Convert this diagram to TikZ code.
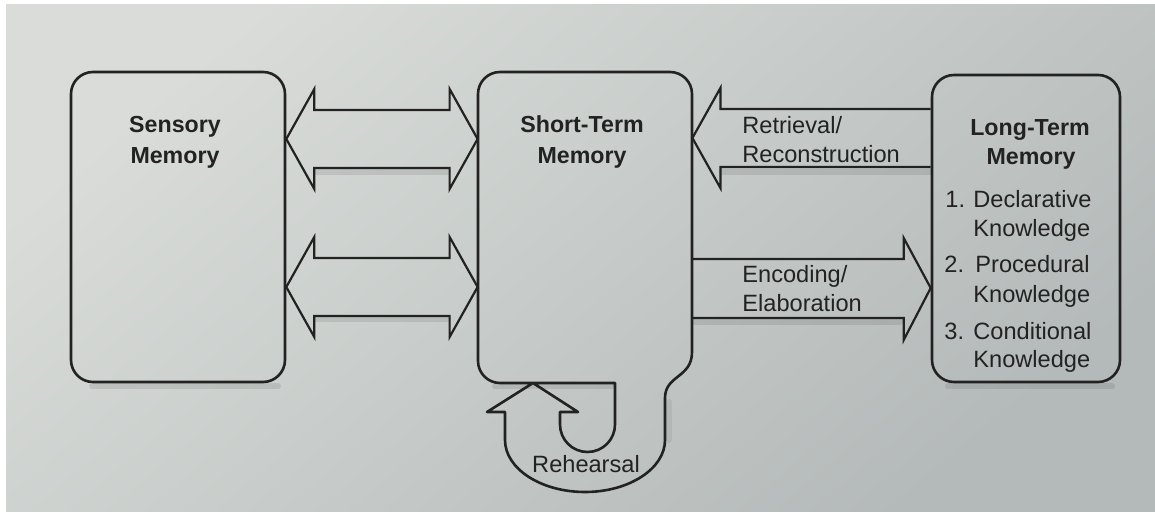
\documentclass[tikz,border=0pt]{standalone}
\usepackage{fontspec}
\setmainfont{Liberation Sans}
\usetikzlibrary{calc}

\definecolor{ink}{HTML}{222222}
\definecolor{paperA}{HTML}{D9DCD9}
\definecolor{paperB}{HTML}{B4BAB9}

% double-headed block arrow between two tips (left tip, right tip)
\newcommand\blockdouble[2]{%
  \draw[blk] (#1) -- ($(#1)+(28,-50)$) -- ($(#1)+(28,-29)$)
    -- ($(#2)+(-28,-29)$) -- ($(#2)+(-28,-50)$) -- (#2)
    -- ($(#2)+(-28,50)$) -- ($(#2)+(-28,29)$)
    -- ($(#1)+(28,29)$) -- ($(#1)+(28,50)$) -- cycle;}

\begin{document}
\begin{tikzpicture}[x=0.5pt,y=-0.5pt,
  membox/.style={draw=ink, line width=1.3pt, rounded corners=11pt, inner sep=0pt},
  anchorbox/.style={inner sep=0pt},
  outline/.style={draw=ink, line width=1.3pt, line join=round},
  blk/.style={draw=ink, line width=1.1pt, line join=miter},
  shade strip/.style={draw=black, line width=3pt, opacity=0.09, line cap=round},
  lbl/.style={font=\fontsize{11.8pt}{15.5pt}\selectfont, text=ink, inner sep=0pt},
  lblb/.style={lbl, font=\fontsize{11.6pt}{15.5pt}\selectfont\bfseries},
]
% paper
\useasboundingbox (0,0) rectangle (1155,512);
\fill[white] (0,0) rectangle (1155,512);
\shade[top color=paperA, bottom color=paperB, shading angle=40] (6,5) rectangle (1155,512);

% memory stores
\node[membox, minimum width=107pt, minimum height=155pt] (sm) at (178,227) {};
\node[anchorbox, minimum width=107pt, minimum height=155.5pt] (stm) at (585,227.5) {};
\node[membox, minimum width=94pt, minimum height=153.5pt] (ltm) at (1026,228.5) {};

% soft shadows under the lower edges
\draw[shade strip] (92,386.5) -- (278,386.5);
\draw[shade strip] (495,386.5) -- (612,386.5);
\draw[shade strip, opacity=0.06] (669,402) -- (669,440);
\draw[shade strip] (948,386.5) -- (1112,386.5);
\draw[shade strip] (316,172) -- (448,172);
\draw[shade strip] (316,319) -- (448,319);
\draw[shade strip] (722,172) -- (930,172);
\draw[shade strip] (695,322) -- (900,322);

% short-term store with the rehearsal loop
\draw[outline] (478,361) -- (478,94)
  .. controls (478,81.85) and (487.85,72) .. (500,72) -- (670,72)
  .. controls (682.15,72) and (692,81.85) .. (692,94) -- (692,352)
  .. controls (692,378) and (665,375) .. (665,398) -- (665,440)
  .. controls (665,468.7) and (629,492) .. (585,492)
  .. controls (541,492) and (505,468.7) .. (505,440) -- (505,412)
  -- (487,412) -- (533,383) -- (578,412) -- (560,412) -- (560,424.5)
  .. controls (560,439.7) and (572.3,452) .. (587.5,452)
  .. controls (602.7,452) and (615,439.7) .. (615,424.5) -- (615,383)
  -- (500,383) .. controls (487.85,383) and (478,373.15) .. (478,361) -- cycle;

% arrow levels
\coordinate (ya) at (0,139);
\coordinate (yb) at (0,287);
\coordinate (yr) at (0,138);
\coordinate (ye) at (0,288);

% sensory <-> short-term
\coordinate (a1l) at (sm.east |- ya);
\coordinate (a1r) at (stm.west |- ya);
\coordinate (a2l) at (sm.east |- yb);
\coordinate (a2r) at (stm.west |- yb);
\blockdouble{a1l}{a1r}
\blockdouble{a2l}{a2r}

% long-term -> short-term (retrieval)
\coordinate (rs) at (ltm.west |- yr);
\coordinate (rt) at (stm.east |- yr);
\draw[blk] ($(rs)+(0,-29)$) -- ($(rt)+(28,-29)$) -- ($(rt)+(28,-50)$) -- (rt)
  -- ($(rt)+(28,50)$) -- ($(rt)+(28,29)$) -- ($(rs)+(0,29)$);

% short-term -> long-term (encoding)
\coordinate (es) at (stm.east |- ye);
\coordinate (et) at (ltm.west |- ye);
\draw[blk] ($(es)+(0,-29)$) -- ($(et)+(-27,-29)$) -- ($(et)+(-27,-50)$) -- (et)
  -- ($(et)+(-27,52)$) -- ($(et)+(-27,30)$) -- ($(es)+(0,30)$);

% labels
\node[lblb, anchor=base] (sm1) at (175,133) {Sensory};
\node[lblb, anchor=base] (sm2) at (175,164) {Memory};
\node[lblb, anchor=base] (st1) at (582,133) {Short-Term};
\node[lblb, anchor=base] (st2) at (582,164) {Memory};
\node[lblb, anchor=base] (lt1) at (1030,136) {Long-Term};
\node[lblb, anchor=base] (lt2) at (1031,165) {Memory};

\node[lbl, anchor=base west] (rl1) at (742,134) {Retrieval/};
\node[lbl, anchor=base west] (rl2) at (742,163) {Reconstruction};
\node[lbl, anchor=base west] (el1) at (742,283) {Encoding/};
\node[lbl, anchor=base west] (el2) at (742,312) {Elaboration};
\node[lbl, anchor=base] (reh) at (586,473) {Rehearsal};

\node[lbl, anchor=base west] (k1n) at (945,208) {1.};
\node[lbl, anchor=base west] (k1a) at (973,208) {Declarative};
\node[lbl, anchor=base west] (k1b) at (973,237) {Knowledge};
\node[lbl, anchor=base west] (k2n) at (944,273) {2.};
\node[lbl, anchor=base west] (k2a) at (975,273) {Procedural};
\node[lbl, anchor=base west] (k2b) at (973,303) {Knowledge};
\node[lbl, anchor=base west] (k3n) at (944,340) {3.};
\node[lbl, anchor=base west] (k3a) at (973,340) {Conditional};
\node[lbl, anchor=base west] (k3b) at (973,368) {Knowledge};
\end{tikzpicture}
\end{document}
